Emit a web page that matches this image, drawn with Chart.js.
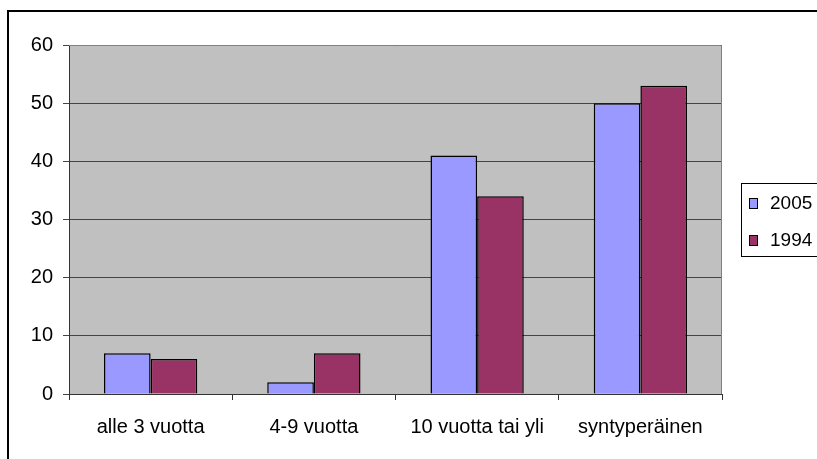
<!DOCTYPE html>
<html>
<head>
<meta charset="utf-8">
<script src="https://cdn.jsdelivr.net/npm/chart.js@4/dist/chart.umd.min.js"></script>
<style>
  body { margin: 0; background: #fff; }
  #wrap { width: 817px; height: 459px; }
</style>
</head>
<body>
<div id="wrap"><canvas id="chart" width="817" height="459"></canvas></div>
<script>
const categories = ['alle 3 vuotta', '4-9 vuotta', '10 vuotta tai yli', 'syntyperäinen'];
const seriesNames = ['2005', '1994'];
const values2005 = [7, 2, 41, 50];
const values1994 = [6, 7, 34, 53];
const yTicks = [0, 10, 20, 30, 40, 50, 60];

const FONT = '"Liberation Sans", Arial, sans-serif';

// grey plot area, outer frame and the boxed legend (Excel look)
const excelLook = {
  id: 'excelLook',
  beforeDraw(chart) {
    const { ctx, chartArea: a } = chart;
    ctx.save();
    ctx.fillStyle = '#fff';
    ctx.fillRect(0, 0, chart.width, chart.height);
    ctx.strokeStyle = '#000';
    ctx.lineWidth = 2;
    ctx.strokeRect(8, 11, 1000, 1000);
    ctx.fillStyle = '#c0c0c0';
    ctx.fillRect(a.left, a.top, a.right - a.left, a.bottom - a.top);
    ctx.restore();
  },
  afterDraw(chart) {
    const { ctx, chartArea: a } = chart;
    ctx.save();
    // plot border top/right
    ctx.strokeStyle = '#808080';
    ctx.lineWidth = 1;
    ctx.beginPath();
    ctx.moveTo(a.left, a.top + 0.5);
    ctx.lineTo(a.right - 0.5, a.top + 0.5);
    ctx.lineTo(a.right - 0.5, a.bottom);
    ctx.stroke();

    // legend
    const lx = 741.5, ly = 183.5;
    ctx.fillStyle = '#fff';
    ctx.fillRect(lx, ly, 120, 73);
    ctx.strokeStyle = '#000';
    ctx.strokeRect(lx, ly, 120, 73);
    ctx.font = '19px ' + FONT;
    ctx.textBaseline = 'middle';
    chart.data.datasets.forEach((ds, i) => {
      const cy = 203 + i * 37;
      ctx.fillStyle = ds.backgroundColor;
      ctx.fillRect(749, cy - 5, 8, 10);
      ctx.strokeStyle = '#000';
      ctx.strokeRect(749.5, cy - 4.5, 8, 10);
      ctx.fillStyle = '#000';
      ctx.fillText(ds.label, 770, cy + 1);
    });
    ctx.restore();
  }
};

new Chart(document.getElementById('chart'), {
  type: 'bar',
  data: {
    labels: categories,
    datasets: [
      { label: seriesNames[0], data: values2005, backgroundColor: '#9999ff',
        borderColor: '#000', borderWidth: 1.5, borderSkipped: 'bottom' },
      { label: seriesNames[1], data: values1994, backgroundColor: '#993366',
        borderColor: '#000', borderWidth: 1.5, borderSkipped: 'bottom' }
    ]
  },
  options: {
    responsive: false,
    animation: false,
    categoryPercentage: 2 / 3.5,
    barPercentage: 1,
    layout: { padding: { top: 45, right: 95, left: 0, bottom: 0 } },
    plugins: { legend: { display: false }, tooltip: { enabled: false } },
    scales: {
      x: {
        grid: { offset: true, drawOnChartArea: false, drawTicks: true, tickLength: 6, color: '#333' },
        border: { color: '#333', width: 1 },
        ticks: { color: '#000', font: { family: FONT, size: 20 }, padding: 15, maxRotation: 0 },
        afterFit(scale) { scale.height = 65; }
      },
      y: {
        min: 0,
        max: 60,
        afterBuildTicks(scale) { scale.ticks = yTicks.map(v => ({ value: v })); },
        grid: { color: '#444', tickLength: 6 },
        border: { color: '#333', width: 1 },
        ticks: { color: '#000', font: { family: FONT, size: 20 }, padding: 10 },
        afterFit(scale) { scale.width = 69; }
      }
    }
  },
  plugins: [excelLook]
});
</script>
</body>
</html>
